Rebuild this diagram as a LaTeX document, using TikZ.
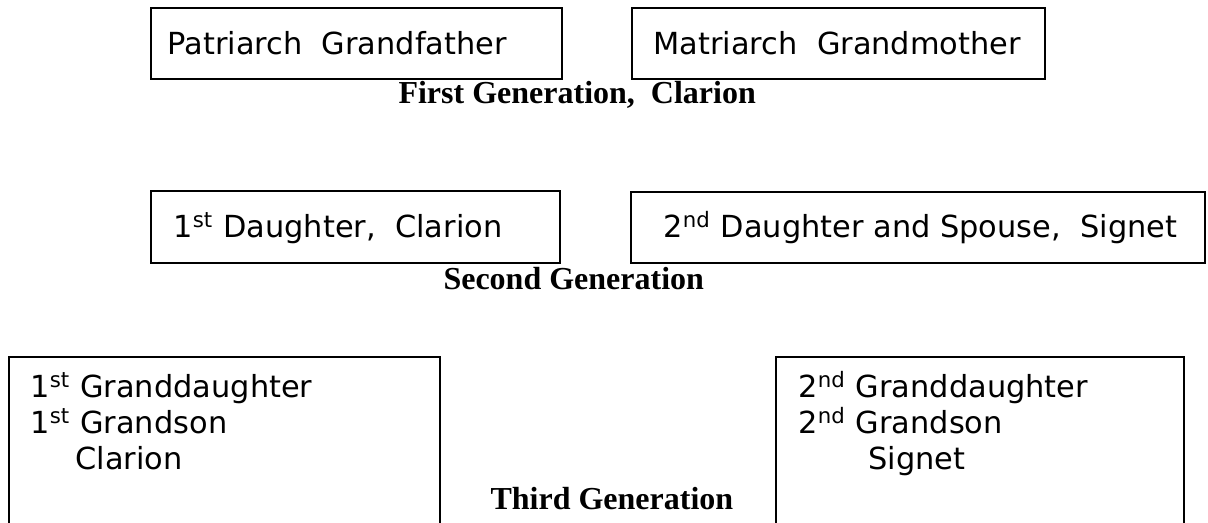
\documentclass[tikz,border=0pt]{standalone}
\usepackage{fontspec}
\setmainfont{Liberation Serif}
\newfontfamily\handfont{DejaVu Sans}
\usetikzlibrary{fit}
\tikzset{
  box/.style={draw, line width=0.9pt, inner sep=0pt},
  entry/.style={font=\handfont\fontsize{11.4}{14}\selectfont, inner sep=0pt, anchor=base west},
  genlabel/.style={font=\bfseries\fontsize{12}{14}\selectfont, inner sep=0pt, anchor=base west},
}
\newcommand{\ordsup}[1]{\textsuperscript{#1}}
\begin{document}
\begin{tikzpicture}[x=0.375pt, y=-0.375pt]
\useasboundingbox (0,0) rectangle (1208,523);
\clip (0,0) rectangle (1208,523);

% first generation
\node[box, fit={(151,8) (562,79)}] (gf) {};
\node[box, fit={(632,8) (1045,79)}] (gm) {};
\node[entry] (gftext) at (167,55) {Patriarch\ \ Grandfather};
\node[entry] (gmtext) at (653,55) {Matriarch\ \ Grandmother};
\node[genlabel] (gen1) at (398,104) {First Generation,\ \ Clarion};

% second generation
\node[box, fit={(151,191) (560,263)}] (d1) {};
\node[box, fit={(631,192) (1205,263)}] (d2) {};
\node[entry] (d1text) at (173,238) {1\ordsup{st} Daughter,\ \ Clarion};
\node[entry] (d2text) at (663,238) {2\ordsup{nd} Daughter and Spouse,\ \ Signet};
\node[genlabel] (gen2) at (443,290) {Second Generation};

% third generation
\node[box, fit={(9,357) (440,540)}] (c1) {};
\node[box, fit={(776,357) (1184,540)}] (c2) {};
\node[entry] (c1a) at (30,398) {1\ordsup{st} Granddaughter};
\node[entry] (c1b) at (30,434) {1\ordsup{st} Grandson};
\node[entry] (c1c) at (75,470) {Clarion};
\node[entry] (c2a) at (798,398) {2\ordsup{nd} Granddaughter};
\node[entry] (c2b) at (798,434) {2\ordsup{nd} Grandson};
\node[entry] (c2c) at (868,470) {Signet};
\node[genlabel] (gen3) at (490,510) {Third Generation};
\end{tikzpicture}
\end{document}
